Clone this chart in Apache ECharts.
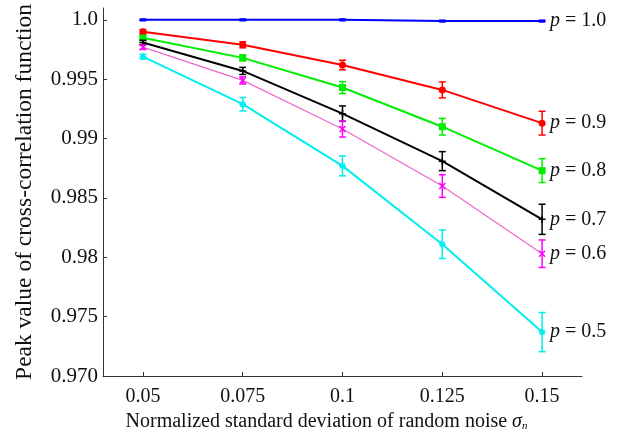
<!DOCTYPE html>
<html><head><meta charset="utf-8">
<script src="https://cdn.jsdelivr.net/npm/echarts@6/dist/echarts.min.js"></script>
<style>html,body{margin:0;padding:0;background:#fff}#c{width:629px;height:439px}</style>
</head><body><div id="c"></div>
<script>
const xValues = [0.05, 0.075, 0.1, 0.125, 0.15];
const xTickLabels = ['0.05', '0.075', '0.1', '0.125', '0.15'];
const yTickValues = [0.970, 0.975, 0.980, 0.985, 0.990, 0.995, 1.000];
const yTickLabels = ['0.970', '0.975', '0.98', '0.985', '0.99', '0.995', '1.0'];
const seriesNames = ['1.0', '0.9', '0.8', '0.7', '0.6', '0.5'];
const p10 = [1.0000, 1.0000, 1.0000, 0.9999, 0.9999];
const p09 = [0.9990, 0.9979, 0.9962, 0.9941, 0.9913];
const p08 = [0.9985, 0.9968, 0.9943, 0.9910, 0.9873];
const p07 = [0.9981, 0.9957, 0.9921, 0.9881, 0.9832];
const p06 = [0.9977, 0.9949, 0.9908, 0.9860, 0.9803];
const p05 = [0.9969, 0.9929, 0.9877, 0.9811, 0.9737];
const e10 = [0.00005, 0.00005, 0.00005, 0.00005, 0.00005];
const e09 = [0.00018, 0.00025, 0.00040, 0.00067, 0.00100];
const e08 = [0.00018, 0.00025, 0.00050, 0.00070, 0.00100];
const e07 = [0.00018, 0.00030, 0.00065, 0.00080, 0.00127];
const e06 = [0.00018, 0.00030, 0.00067, 0.00095, 0.00116];
const e05 = [0.00020, 0.00056, 0.00084, 0.00120, 0.00165];

const values = [p10, p09, p08, p07, p06, p05];
const errors = [e10, e09, e08, e07, e06, e05];
const lineColors = ['#0000ff', '#ff0000', '#00ee00', '#000000', '#ee66cc', '#00eeee'];
const markColors = ['#0000ff', '#ff0000', '#00ee00', '#000000', '#ff00ff', '#00eeee'];
const lineWidths = [2, 2, 2, 2, 1.2, 2];
const symbols = [
  'rect',
  'circle',
  'rect',
  'path://M0,5L10,5M5,0L5,10',
  'path://M0,0L10,10M10,0L0,10',
  'path://M0,5L10,5M5,0L5,10M1.5,1.5L8.5,8.5M8.5,1.5L1.5,8.5'
];
const symbolSizes = [[6,3], 7, 7, 7, 6, 7];

const FONT = '"Liberation Serif", "Times New Roman", serif';
const series = [];
values.forEach((vals, i) => {
  const stroke = symbols[i].startsWith('path');
  series.push({
    type: 'line',
    data: vals.map((v, k) => [xValues[k], v]),
    symbol: symbols[i],
    symbolSize: symbolSizes[i],
    showAllSymbol: true,
    lineStyle: { color: lineColors[i], width: lineWidths[i] },
    itemStyle: stroke ? { color: 'none', borderColor: markColors[i], borderWidth: 1.5 } : { color: markColors[i], borderWidth: 0 },
    z: 3,
    endLabel: {
      show: true,
      distance: 8,
      fontFamily: FONT,
      fontSize: 20,
      color: '#111',
      formatter: '{i|p} = ' + seriesNames[i],
      rich: { i: { fontStyle: 'italic', fontFamily: FONT, fontSize: 20, color: '#111' } }
    },
    animation: false
  });
  series.push({
    type: 'custom',
    data: vals.map((v, k) => [xValues[k], v - errors[i][k], v + errors[i][k]]),
    renderItem: function (params, api) {
      const lo = api.coord([api.value(0), api.value(1)]);
      const hi = api.coord([api.value(0), api.value(2)]);
      const w = 3.5;
      const st = { stroke: markColors[i], lineWidth: 1.5 };
      return { type: 'group', children: [
        { type: 'line', shape: { x1: lo[0], y1: lo[1], x2: hi[0], y2: hi[1] }, style: st },
        { type: 'line', shape: { x1: lo[0]-w, y1: lo[1], x2: lo[0]+w, y2: lo[1] }, style: st },
        { type: 'line', shape: { x1: hi[0]-w, y1: hi[1], x2: hi[0]+w, y2: hi[1] }, style: st }
      ]};
    },
    z: 4,
    animation: false
  });
});

const chart = echarts.init(document.getElementById('c'));
chart.setOption({
  backgroundColor: '#fff',
  animation: false,
  textStyle: { fontFamily: FONT },
  grid: { left: 103, right: 47, top: 8, bottom: 63 },
  xAxis: {
    type: 'value', min: 0.04, max: 0.16,
    name: 'Normalized standard deviation of random noise {s|σ}{n|n}',
    nameLocation: 'middle', nameGap: 33,
    nameTextStyle: { fontFamily: FONT, fontSize: 20, color: '#111', padding: [0, 32, 0, 0],
      rich: { s: { fontStyle: 'italic', fontFamily: FONT, fontSize: 20, color: '#111' },
              n: { fontStyle: 'italic', fontFamily: FONT, fontSize: 11, color: '#111', padding: [9, 0, 0, 0] } } },
    axisLine: { lineStyle: { color: '#333', width: 1 } },
    axisTick: { inside: true, length: 4, customValues: xValues, lineStyle: { color: '#333' } },
    axisLabel: { customValues: xValues, margin: 11, fontFamily: FONT, fontSize: 20, color: '#111',
      formatter: v => { const k = xValues.findIndex(x => Math.abs(x - v) < 1e-9); return k >= 0 ? xTickLabels[k] : ''; } },
    splitLine: { show: false }
  },
  yAxis: {
    type: 'value', min: 0.970, max: 1.001,
    name: 'Peak value of cross-correlation function',
    nameLocation: 'middle', nameGap: 66,
    nameTextStyle: { fontFamily: FONT, fontSize: 23.5, color: '#111' },
    axisLine: { show: true, lineStyle: { color: '#333', width: 1 } },
    axisTick: { show: true, inside: true, length: 4, customValues: yTickValues, lineStyle: { color: '#333' } },
    axisLabel: { customValues: yTickValues, margin: 5, fontFamily: FONT, fontSize: 21, color: '#111',
      formatter: v => { const k = yTickValues.findIndex(y => Math.abs(y - v) < 1e-9); return k >= 0 ? yTickLabels[k] : ''; } },
    splitLine: { show: false }
  },
  series: series
});
</script></body></html>
